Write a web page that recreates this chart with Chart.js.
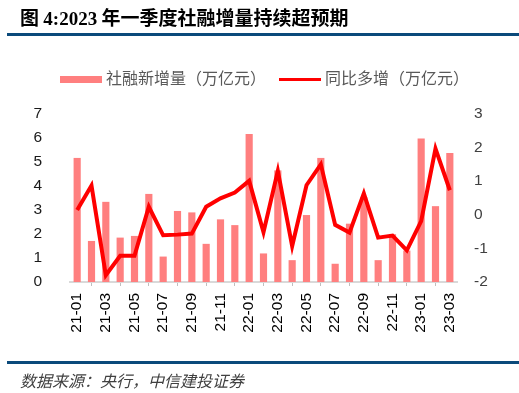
<!DOCTYPE html>
<html>
<head>
<meta charset="utf-8">
<script src="https://cdn.jsdelivr.net/npm/chart.js@4/dist/chart.umd.min.js"></script>
<style>
  body { margin: 0; width: 519px; height: 393px; background: #fff; position: relative; overflow: hidden; font-family: "Noto Sans CJK SC", sans-serif; }
  #wrap { position: absolute; left: 0; top: 0; width: 519px; height: 393px; }
  .title { position: absolute; left: 20px; top: 3px; font-size: 19px; font-weight: bold; color: #000; white-space: nowrap; }
  .title .num { font-family: "Liberation Serif", serif; }
  .rule { position: absolute; left: 7px; width: 512px; height: 3px; background: #0b4a7b; }
  .source { position: absolute; left: 20px; top: 368px; font-size: 16px; font-style: italic; color: #404040; white-space: nowrap; }
  .legend { position: absolute; top: 65px; font-size: 16px; color: #595959; white-space: nowrap; }
  .sw { display: inline-block; vertical-align: middle; margin-right: 4px; }
</style>
</head>
<body>
<div id="wrap"><canvas id="c" width="519" height="393"></canvas></div>
<div class="title">图 <span class="num">4:2023</span> 年一季度社融增量持续超预期</div>
<div class="rule" style="top:33px"></div>
<div class="legend" style="left:60px"><span class="sw" style="width:42px;height:7px;background:#ff7f7f"></span>社融新增量（万亿元）</div>
<div class="legend" style="left:279px"><span class="sw" style="width:42px;height:3px;background:#ff0000"></span>同比多增（万亿元）</div>
<div class="rule" style="top:361px"></div>
<div class="source">数据来源：央行，中信建投证券</div>
<script>
// monthly categories 21-01 .. 23-03
const months = ['21-01','21-02','21-03','21-04','21-05','21-06','21-07','21-08','21-09','21-10','21-11','21-12',
                '22-01','22-02','22-03','22-04','22-05','22-06','22-07','22-08','22-09','22-10','22-11','22-12',
                '23-01','23-02','23-03'];
// 社融新增量 (万亿元)
const tsfNew = [5.17,1.71,3.34,1.85,1.92,3.67,1.06,2.96,2.90,1.59,2.61,2.37,
                6.17,1.19,4.65,0.91,2.79,5.17,0.76,2.43,3.53,0.91,1.99,1.31,
                5.98,3.16,5.38];
// 同比多增 (万亿元)
const yoyChange = [0.14,0.87,-1.80,-1.22,-1.22,0.24,-0.61,-0.59,-0.56,0.24,0.49,0.66,
                   1.01,-0.52,1.31,-0.93,0.88,1.50,-0.30,-0.53,0.64,-0.68,-0.62,-1.06,
                   -0.19,1.97,0.73];
const leftTicks = [0,1,2,3,4,5,6,7];
const rightTicks = [-2,-1,0,1,2,3];

new Chart(document.getElementById('c'), {
  type: 'bar',
  data: {
    labels: months,
    datasets: [
      { type: 'line', data: yoyChange, yAxisID: 'y1', borderColor: '#ff0000', borderWidth: 4,
        pointRadius: 0, tension: 0, order: 0 },
      { data: tsfNew, yAxisID: 'y', backgroundColor: '#ff7f7f', categoryPercentage: 1,
        barPercentage: 0.5, order: 1 }
    ]
  },
  options: {
    responsive: false,
    animation: false,
    devicePixelRatio: 1,
    layout: { padding: { top: 114, left: 0, right: 0, bottom: 0 } },
    plugins: { legend: { display: false }, tooltip: { enabled: false } },
    scales: {
      x: {
        grid: { offset: true, drawOnChartArea: false, drawTicks: true, tickLength: 4, color: '#bfbfbf' },
        border: { color: '#d9d9d9', width: 2 },
        ticks: {
          autoSkip: false, maxRotation: 90, minRotation: 90, padding: 7,
          color: '#000', font: { family: 'Liberation Sans', size: 15.5 },
          callback: (v, i) => i % 2 === 0 ? months[i] : null
        },
        afterFit: (s) => { s.height = 111; }
      },
      y: {
        position: 'left', min: 0, max: 7,
        grid: { display: false }, border: { display: false },
        afterBuildTicks: (s) => { s.ticks = leftTicks.map(v => ({ value: v })); },
        ticks: { padding: 20, color: '#1a1a1a', font: { family: 'Liberation Sans', size: 15.5 } },
        afterFit: (s) => { s.width = 70; }
      },
      y1: {
        position: 'right', min: -2, max: 3,
        grid: { display: false }, border: { display: false },
        afterBuildTicks: (s) => { s.ticks = rightTicks.map(v => ({ value: v })); },
        ticks: { padding: 9, color: '#404040', font: { family: 'Liberation Sans', size: 15.5 } },
        afterFit: (s) => { s.width = 62; }
      }
    }
  }
});
</script>
</body>
</html>
